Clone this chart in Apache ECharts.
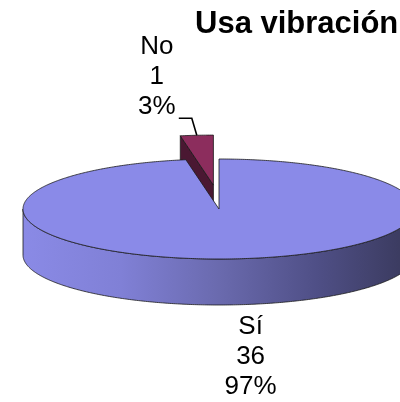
<!DOCTYPE html>
<html>
<head>
<meta charset="utf-8">
<script src="https://cdn.jsdelivr.net/npm/echarts@6/dist/echarts.min.js"></script>
<style>
html, body { margin: 0; padding: 0; background: #fff; }
#main { width: 400px; height: 402px; }
</style>
</head>
<body>
<div id="main"></div>
<script>
var myChart = echarts.init(document.getElementById('main'));

// datos
var names = ['Sí', 'No'];
var counts = [36, 1];

// estilo de cada porción
var topColors = ['#8A8AE8', '#8C2D5D'];
var cutColors = ['#5C5CA0', '#4A1832'];
var explode = [0, 0.48];

var total = counts.reduce(function (a, b) { return a + b; }, 0);
var CX = 219, CY = 209, RX = 196, RY = 50, DEPTH = 46;
var FONT = '"Liberation Sans", Arial, sans-serif';

function pt(a, ox, oy, down) {
  return [CX + ox + RX * Math.sin(a), CY + oy - RY * Math.cos(a) + (down || 0)];
}

function arc(a0, a1, ox, oy, down) {
  var pts = [];
  var n = Math.max(2, Math.ceil((a1 - a0) / 0.01));
  for (var s = 0; s <= n; s++) {
    pts.push(pt(a0 + (a1 - a0) * s / n, ox, oy, down));
  }
  return pts;
}

function renderItem(params, api) {
  var i = params.dataIndex;
  var start = 0;
  for (var j = 0; j < i; j++) start += counts[j] / total * 2 * Math.PI;
  var end = start + api.value(0) / total * 2 * Math.PI;
  var mid = (start + end) / 2;
  var k = explode[i];
  // el desplazamiento horizontal se reduce un poco, como en Excel
  var ox = 0.7 * k * RX * Math.sin(mid), oy = -k * RY * Math.cos(mid);
  var base = 20 + Math.round(-Math.cos(mid) * 10) * 3;
  var line = { stroke: '#1a1a1a', lineWidth: 0.8 };
  var children = [];
  var apex = [CX + ox, CY + oy];

  // pared exterior visible (mitad delantera)
  var w0 = Math.max(start, Math.PI / 2), w1 = Math.min(end, 3 * Math.PI / 2);
  if (w1 > w0) {
    var wall = arc(w0, w1, ox, oy).concat(arc(w0, w1, ox, oy, DEPTH).reverse());
    children.push({
      type: 'polygon', z2: base,
      shape: { points: wall },
      style: {
        fill: {
          type: 'linear', x: 0, y: 0, x2: 1, y2: 0,
          colorStops: [
            { offset: 0, color: '#8A8AE6' },
            { offset: 0.25, color: '#8080D6' },
            { offset: 0.5, color: '#6A6AAE' },
            { offset: 0.75, color: '#4F4F86' },
            { offset: 1, color: '#38385A' }
          ]
        },
        stroke: line.stroke, lineWidth: line.lineWidth
      }
    });
  }

  // caras de corte
  [[start, Math.sin(start) < -0.01], [end, Math.sin(end) > 0.01]].forEach(function (c) {
    if (!c[1]) return;
    var p = pt(c[0], ox, oy);
    children.push({
      type: 'polygon', z2: base + 1,
      shape: { points: [apex, p, [p[0], p[1] + DEPTH], [apex[0], apex[1] + DEPTH]] },
      style: { fill: cutColors[i], stroke: line.stroke, lineWidth: line.lineWidth }
    });
  });

  // cara superior
  children.push({
    type: 'polygon', z2: base + 2,
    shape: { points: [apex].concat(arc(start, end, ox, oy)) },
    style: { fill: topColors[i], stroke: line.stroke, lineWidth: line.lineWidth }
  });

  // etiqueta
  var pct = Math.round(api.value(0) / total * 100);
  var text = names[i] + '\n' + api.value(0) + '\n' + pct + '%';
  var tx, ty;
  if (Math.cos(mid) < 0) {
    var a = pt(mid, ox, oy, DEPTH);
    tx = a[0] + 15; ty = a[1] + 52;
  } else {
    var b = pt(mid, ox, oy);
    var elbow = [b[0] - 5, b[1] - 17];
    var tail = [elbow[0] - 13, elbow[1]];
    children.push({
      type: 'polyline', z2: 100,
      shape: { points: [b, elbow, tail] },
      style: { stroke: '#000', lineWidth: 1.6, fill: null }
    });
    tx = tail[0] - 22; ty = tail[1] - 41;
  }
  children.push({
    type: 'text', z2: 100,
    style: {
      text: text, x: tx, y: ty, align: 'center', verticalAlign: 'middle',
      fontSize: 26, fontFamily: FONT, lineHeight: 30, fill: '#000'
    }
  });

  return { type: 'group', children: children };
}

option = {
  animation: false,
  backgroundColor: '#fff',
  title: {
    text: 'Usa vibración',
    left: 195,
    top: 9,
    padding: 0,
    textStyle: { fontSize: 31, fontWeight: 'bold', fontFamily: FONT, color: '#000' }
  },
  series: [{
    type: 'custom',
    coordinateSystem: 'none',
    renderItem: renderItem,
    data: counts.map(function (v, i) { return { name: names[i], value: [v, i] }; })
  }]
};

myChart.setOption(option);
</script>
</body>
</html>
